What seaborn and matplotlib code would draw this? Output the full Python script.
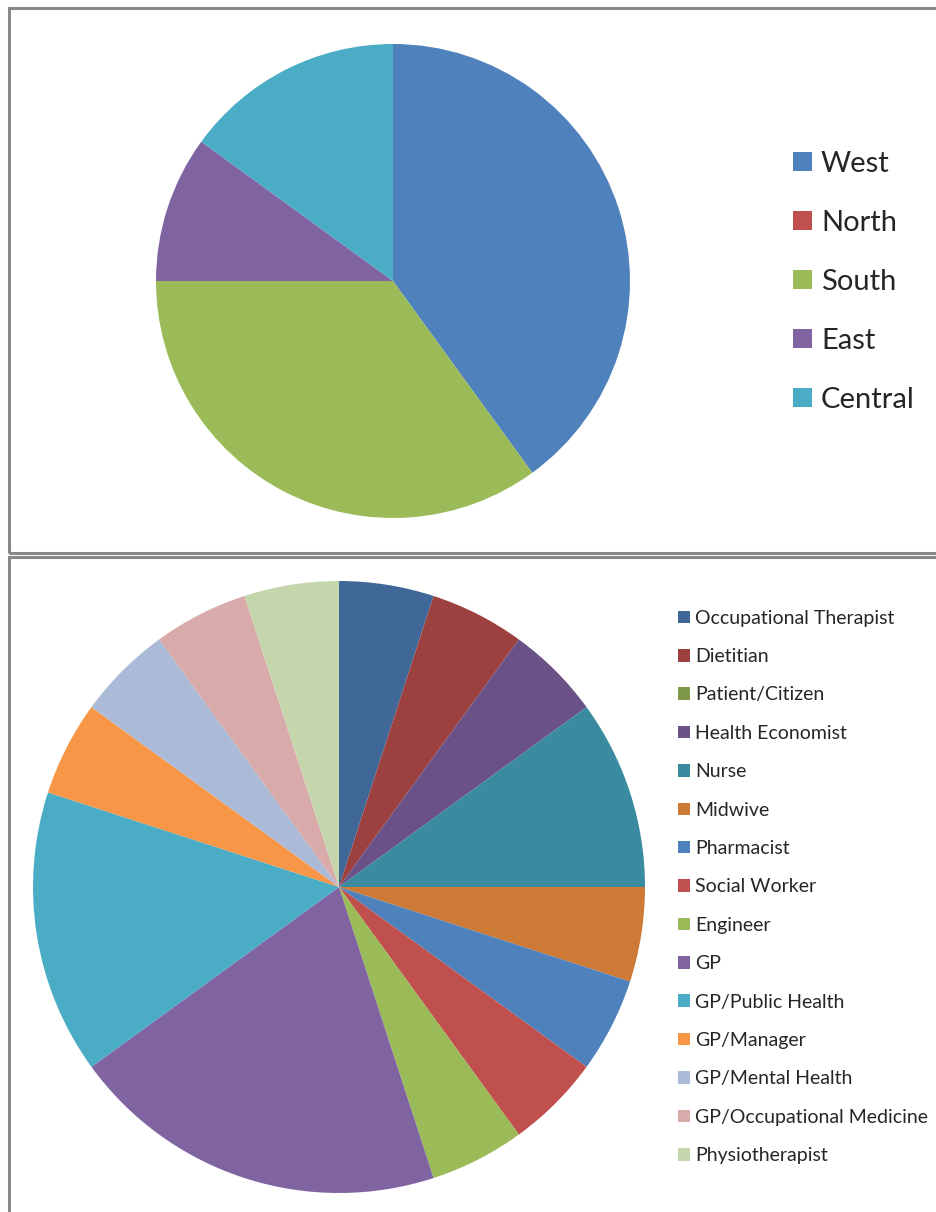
import matplotlib
matplotlib.use("Agg")
import matplotlib.pyplot as plt
import seaborn as sns
from matplotlib.patches import Rectangle

# ---- data ----
region_labels = ["West", "North", "South", "East", "Central"]
region_values = [40, 0, 35, 10, 15]
region_colors = ["#4F81BD", "#C0504D", "#9BBB59", "#8064A2", "#4BACC6"]

prof_labels = ["Occupational Therapist", "Dietitian", "Patient/Citizen", "Health Economist",
               "Nurse", "Midwive", "Pharmacist", "Social Worker", "Engineer", "GP",
               "GP/Public Health", "GP/Manager", "GP/Mental Health",
               "GP/Occupational Medicine", "Physiotherapist"]
prof_values = [5, 5, 0, 5, 10, 5, 5, 5, 5, 20, 15, 5, 5, 5, 5]
prof_colors = ["#3F6898", "#9C413F", "#7E9A48", "#6A5187", "#3B8BA0", "#CC7A35",
               "#4F81BD", "#C0504D", "#9BBB59", "#8064A2", "#4BACC6", "#F79646",
               "#AABAD7", "#D9AAAA", "#C6D6AC"]

sns.set_theme(style="white")
plt.rcParams["font.family"] = ["Lato", "DejaVu Sans"]

W, H = 937, 1212
fig = plt.figure(figsize=(W / 100, H / 100), dpi=100)
fig.patch.set_facecolor("white")

def fx(x):
    return x / W

def fy(y):
    return 1 - y / H

# frames
frame_col = "#888888"
fig.add_artist(Rectangle((fx(9.5), fy(553)), fx(940) - fx(9.5), fy(7.5) - fy(553),
                         transform=fig.transFigure, fill=False, edgecolor=frame_col, lw=2.2))
fig.add_artist(Rectangle((fx(9.5), fy(1220)), fx(945) - fx(9.5), fy(557) - fy(1220),
                         transform=fig.transFigure, fill=False, edgecolor=frame_col, lw=2.2))

def pie_axes(cx, cy, r):
    ax = fig.add_axes([fx(cx - r), fy(cy + r), (2 * r) / W, (2 * r) / H])
    ax.axis("off")
    return ax

def fix_limits(ax):
    ax.set_xlim(-1, 1)
    ax.set_ylim(-1, 1)
    ax.set_aspect("equal")

# top pie
ax1 = pie_axes(393, 281, 237)
w1, _ = ax1.pie(region_values, colors=region_colors, startangle=90, counterclock=False,
                radius=1, wedgeprops=dict(linewidth=0))
fix_limits(ax1)
fs1 = 21
fig.legend(w1, region_labels, loc="upper left",
           bbox_to_anchor=(fx(793), fy(151)), bbox_transform=fig.transFigure,
           frameon=False, fontsize=fs1, handlelength=0.65, handleheight=0.62,
           handletextpad=0.31, labelspacing=1.13, borderpad=0, borderaxespad=0)

# bottom pie
ax2 = pie_axes(339, 887, 306)
w2, _ = ax2.pie(prof_values, colors=prof_colors, startangle=90, counterclock=False,
                radius=1, wedgeprops=dict(linewidth=0))
fix_limits(ax2)
fs2 = 14
fig.legend(w2, prof_labels, loc="upper left",
           bbox_to_anchor=(fx(678), fy(609.7)), bbox_transform=fig.transFigure,
           frameon=False, fontsize=fs2, handlelength=0.62, handleheight=0.62,
           handletextpad=0.26, labelspacing=1.10, borderpad=0, borderaxespad=0)

fig.savefig("out.png", dpi=100, facecolor="white")
